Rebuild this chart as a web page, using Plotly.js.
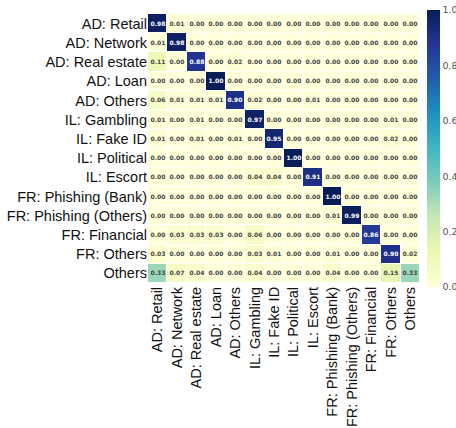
<!DOCTYPE html>
<html>
<head>
<meta charset="utf-8">
<script src="https://cdn.plot.ly/plotly-3.0.1.min.js"></script>
<style>html,body{margin:0;padding:0;background:#fff;overflow:hidden;}#chart{width:472px;height:428px;}</style>
</head>
<body>
<div id="chart"></div>
<script>
var categories = ["AD: Retail","AD: Network","AD: Real estate","AD: Loan","AD: Others","IL: Gambling","IL: Fake ID","IL: Political","IL: Escort","FR: Phishing (Bank)","FR: Phishing (Others)","FR: Financial","FR: Others","Others"];

var rowADRetail      = [0.98,0.01,0.00,0.00,0.00,0.00,0.00,0.00,0.00,0.00,0.00,0.00,0.00,0.00];
var rowADNetwork     = [0.01,0.98,0.00,0.00,0.00,0.00,0.00,0.00,0.00,0.00,0.00,0.00,0.00,0.00];
var rowADRealEstate  = [0.11,0.00,0.88,0.00,0.02,0.00,0.00,0.00,0.00,0.00,0.00,0.00,0.00,0.00];
var rowADLoan        = [0.00,0.00,0.00,1.00,0.00,0.00,0.00,0.00,0.00,0.00,0.00,0.00,0.00,0.00];
var rowADOthers      = [0.06,0.01,0.01,0.01,0.90,0.02,0.00,0.00,0.01,0.00,0.00,0.00,0.00,0.00];
var rowILGambling    = [0.01,0.00,0.01,0.00,0.00,0.97,0.00,0.00,0.00,0.00,0.00,0.00,0.01,0.00];
var rowILFakeID      = [0.01,0.00,0.01,0.00,0.01,0.00,0.95,0.00,0.00,0.00,0.00,0.00,0.02,0.00];
var rowILPolitical   = [0.00,0.00,0.00,0.00,0.00,0.00,0.00,1.00,0.00,0.00,0.00,0.00,0.00,0.00];
var rowILEscort      = [0.00,0.00,0.00,0.00,0.00,0.04,0.04,0.00,0.91,0.00,0.00,0.00,0.00,0.00];
var rowFRPhishBank   = [0.00,0.00,0.00,0.00,0.00,0.00,0.00,0.00,0.00,1.00,0.00,0.00,0.00,0.00];
var rowFRPhishOthers = [0.00,0.00,0.00,0.00,0.00,0.00,0.00,0.00,0.00,0.01,0.99,0.00,0.00,0.00];
var rowFRFinancial   = [0.00,0.03,0.03,0.03,0.00,0.06,0.00,0.00,0.00,0.00,0.00,0.86,0.00,0.00];
var rowFROthers      = [0.03,0.00,0.00,0.00,0.00,0.03,0.01,0.00,0.00,0.01,0.00,0.00,0.90,0.02];
var rowOthers        = [0.33,0.07,0.04,0.00,0.00,0.04,0.00,0.00,0.00,0.04,0.00,0.00,0.15,0.33];

var colorbarTicks = [0.0,0.2,0.4,0.6,0.8,1.0];

var z = [rowADRetail,rowADNetwork,rowADRealEstate,rowADLoan,rowADOthers,rowILGambling,rowILFakeID,rowILPolitical,rowILEscort,rowFRPhishBank,rowFRPhishOthers,rowFRFinancial,rowFROthers,rowOthers];

var ylgnbu = [
  [0.0,'#ffffd9'],[0.125,'#edf8b1'],[0.25,'#c7e9b4'],[0.375,'#7fcdbb'],
  [0.5,'#41b6c4'],[0.625,'#1d91c0'],[0.75,'#225ea8'],[0.875,'#253494'],[1.0,'#081d58']
];

var trace = {
  type:'heatmap',
  z: z, x: categories, y: categories,
  zmin:0, zmax:1,
  colorscale: ylgnbu,
  xgap:1, ygap:1,
  texttemplate:'%{z:.2f}',
  textfont:{family:'DejaVu Sans', size:6, weight:'bold'},
  hoverinfo:'none',
  colorbar:{
    x:1.026, xanchor:'left', y:0.5, yanchor:'middle',
    xpad:0, ypad:0,
    thickness:13, len:277, lenmode:'pixels',
    outlinewidth:0, ticks:'',
    tickvals: colorbarTicks, tickformat:'.1f',
    tickfont:{family:'DejaVu Sans', size:9.5, color:'#555'}
  }
};

var layout = {
  width:472, height:428,
  margin:{l:148, r:52, t:10, b:145},
  paper_bgcolor:'#fff', plot_bgcolor:'#fff',
  font:{family:'Liberation Sans', color:'#111'},
  xaxis:{type:'category', tickangle:-90, tickfont:{size:14.5}, showgrid:false, zeroline:false, ticks:'', automargin:false},
  yaxis:{type:'category', autorange:'reversed', tickfont:{size:14.5}, showgrid:false, zeroline:false, ticks:'', automargin:false},
  showlegend:false
};

Plotly.newPlot('chart',[trace],layout,{displayModeBar:false, staticPlot:true});
</script>
</body>
</html>
